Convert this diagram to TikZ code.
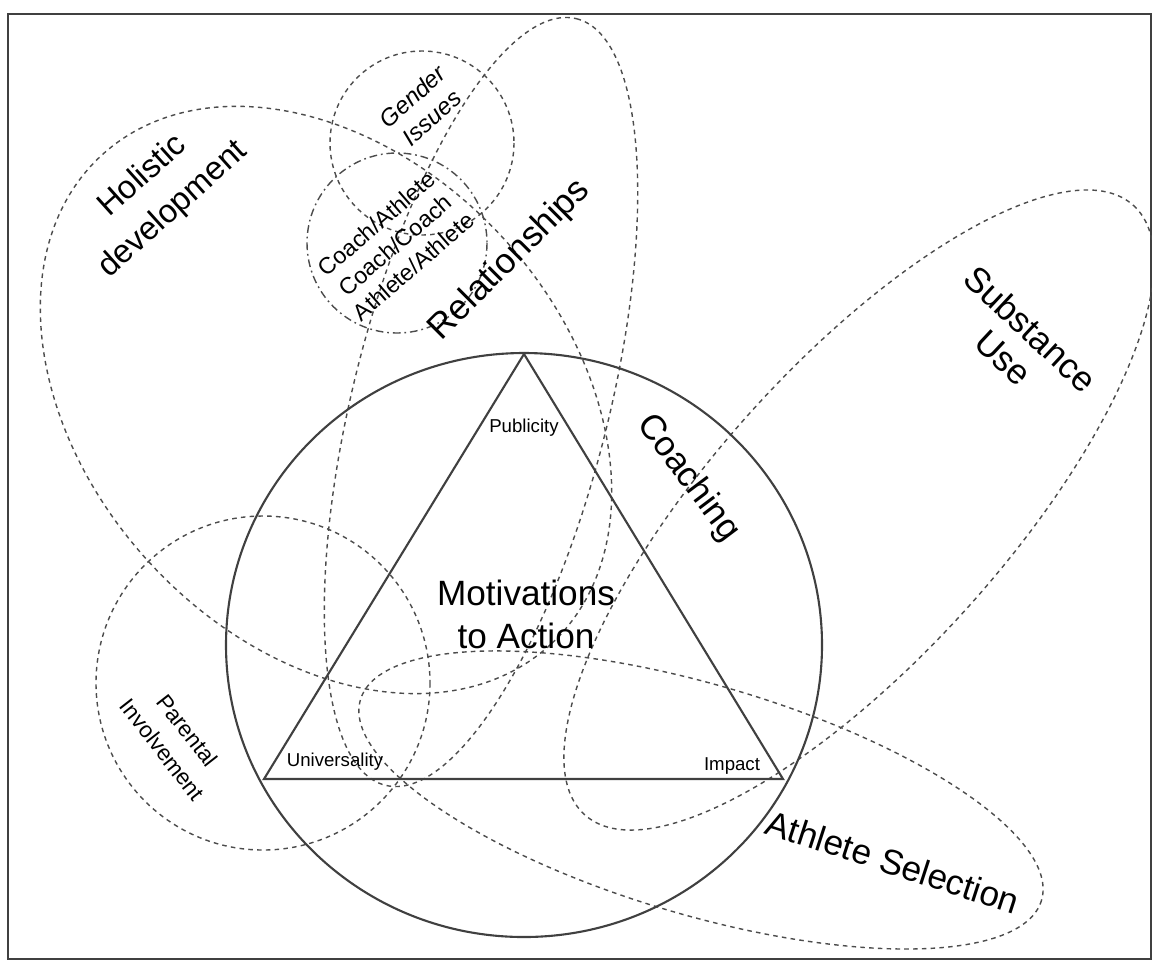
\documentclass[tikz,border=0pt]{standalone}
\usepackage{fontspec}
\setmainfont{Liberation Sans}
\usetikzlibrary{calc}

\begin{document}
\begin{tikzpicture}[x=0.01cm,y=-0.01cm,
	ring/.style={draw=black!75,line width=0.6pt},
	loopline/.style={draw=black!70,line width=0.4pt,dash pattern=on 1.3pt off 1.2pt},
	dotdash/.style={draw=black!70,line width=0.4pt,dash pattern=on 2.2pt off 1.1pt on 0.5pt off 1.1pt},
	biglabel/.style={font=\fontsize{10}{12.2}\selectfont,align=center,inner sep=0pt},
	midlabel/.style={font=\fontsize{6.6}{8}\selectfont,align=center,inner sep=0pt},
	smalllabel/.style={font=\fontsize{5.3}{6}\selectfont,inner sep=0pt}]
		\useasboundingbox (0,0) rectangle (1152,960);
		\draw[black!75,line width=0.5pt] (8,14) rectangle (1151,959);
		\coordinate (O) at (524,645);
		\coordinate (T1) at (524,354);
		\coordinate (T2) at (264,779);
		\coordinate (T3) at (783,779);
		\coordinate (H) at (326,400);
		\coordinate (R) at (481,402);
		\coordinate (G) at (422,143);
		\coordinate (C) at (397,243);
		\coordinate (P) at (263,683);
		\coordinate (S) at (859,510);
		\coordinate (A) at (701,800);
		\draw[loopline,rotate around={-47.5:(H)}] (H) ellipse [x radius=332, y radius=240];
		\draw[loopline,rotate around={76:(R)}] (R) ellipse [x radius=395, y radius=128];
		\draw[loopline] (G) circle (92);
		\draw[dotdash] (C) circle (90);
		\draw[loopline] (P) circle (167);
		\draw[loopline,rotate around={48:(S)}] (S) ellipse [x radius=410, y radius=146];
		\draw[loopline,rotate around={-16.4:(A)}] (A) ellipse [x radius=355, y radius=115];
		\draw[ring] (O) ellipse [x radius=298, y radius=292];
		\draw[ring] (T1) -- (T2) -- (T3) -- cycle;
		\coordinate (Lpub) at (524,428);
		\coordinate (Luni) at (335,762);
		\coordinate (Limp) at (732,766);
		\coordinate (Lmot) at (526,614);
		\coordinate (Lhol) at (158,193);
		\coordinate (Lrel) at (510,260);
		\coordinate (Lgen) at (422,107);
		\coordinate (Lcoa) at (395,245);
		\coordinate (Lcch) at (688,478);
		\coordinate (Lsub) at (1017,343);
		\coordinate (Lath) at (893,862);
		\coordinate (Lpar) at (175,740);
		\draw (Lpub) node[smalllabel] (publicity) {Publicity};
		\draw (Luni) node[smalllabel] (universality) {Universality};
		\draw (Limp) node[smalllabel] (impact) {Impact};
		\draw (Lmot) node[biglabel] (motivations) {Motivations\\to Action};
		\draw (Lhol) node[biglabel,rotate=42,font=\fontsize{9.3}{12.8}\selectfont] (holistic) {Holistic\\development};
		\draw (Lrel) node[biglabel,rotate=45] (relationships) {Relationships};
		\draw (Lgen) node[midlabel,rotate=42,font=\fontsize{6.8}{8.2}\selectfont\itshape] (gender) {Gender\\Issues};
		\draw (Lcoa) node[midlabel,rotate=41] (pairs) {Coach/Athlete\\Coach/Coach\\Athlete/Athlete};
		\draw (Lcch) node[biglabel,rotate=-53] (coaching) {Coaching};
		\draw (Lsub) node[biglabel,rotate=-43,font=\fontsize{10}{11.2}\selectfont] (substance) {Substance\\Use};
		\draw (Lath) node[biglabel,rotate=-18] (selection) {Athlete Selection};
		\draw (Lpar) node[midlabel,rotate=-52,font=\fontsize{6.4}{9}\selectfont] (parental) {Parental\\Involvement};
\end{tikzpicture}
\end{document}
